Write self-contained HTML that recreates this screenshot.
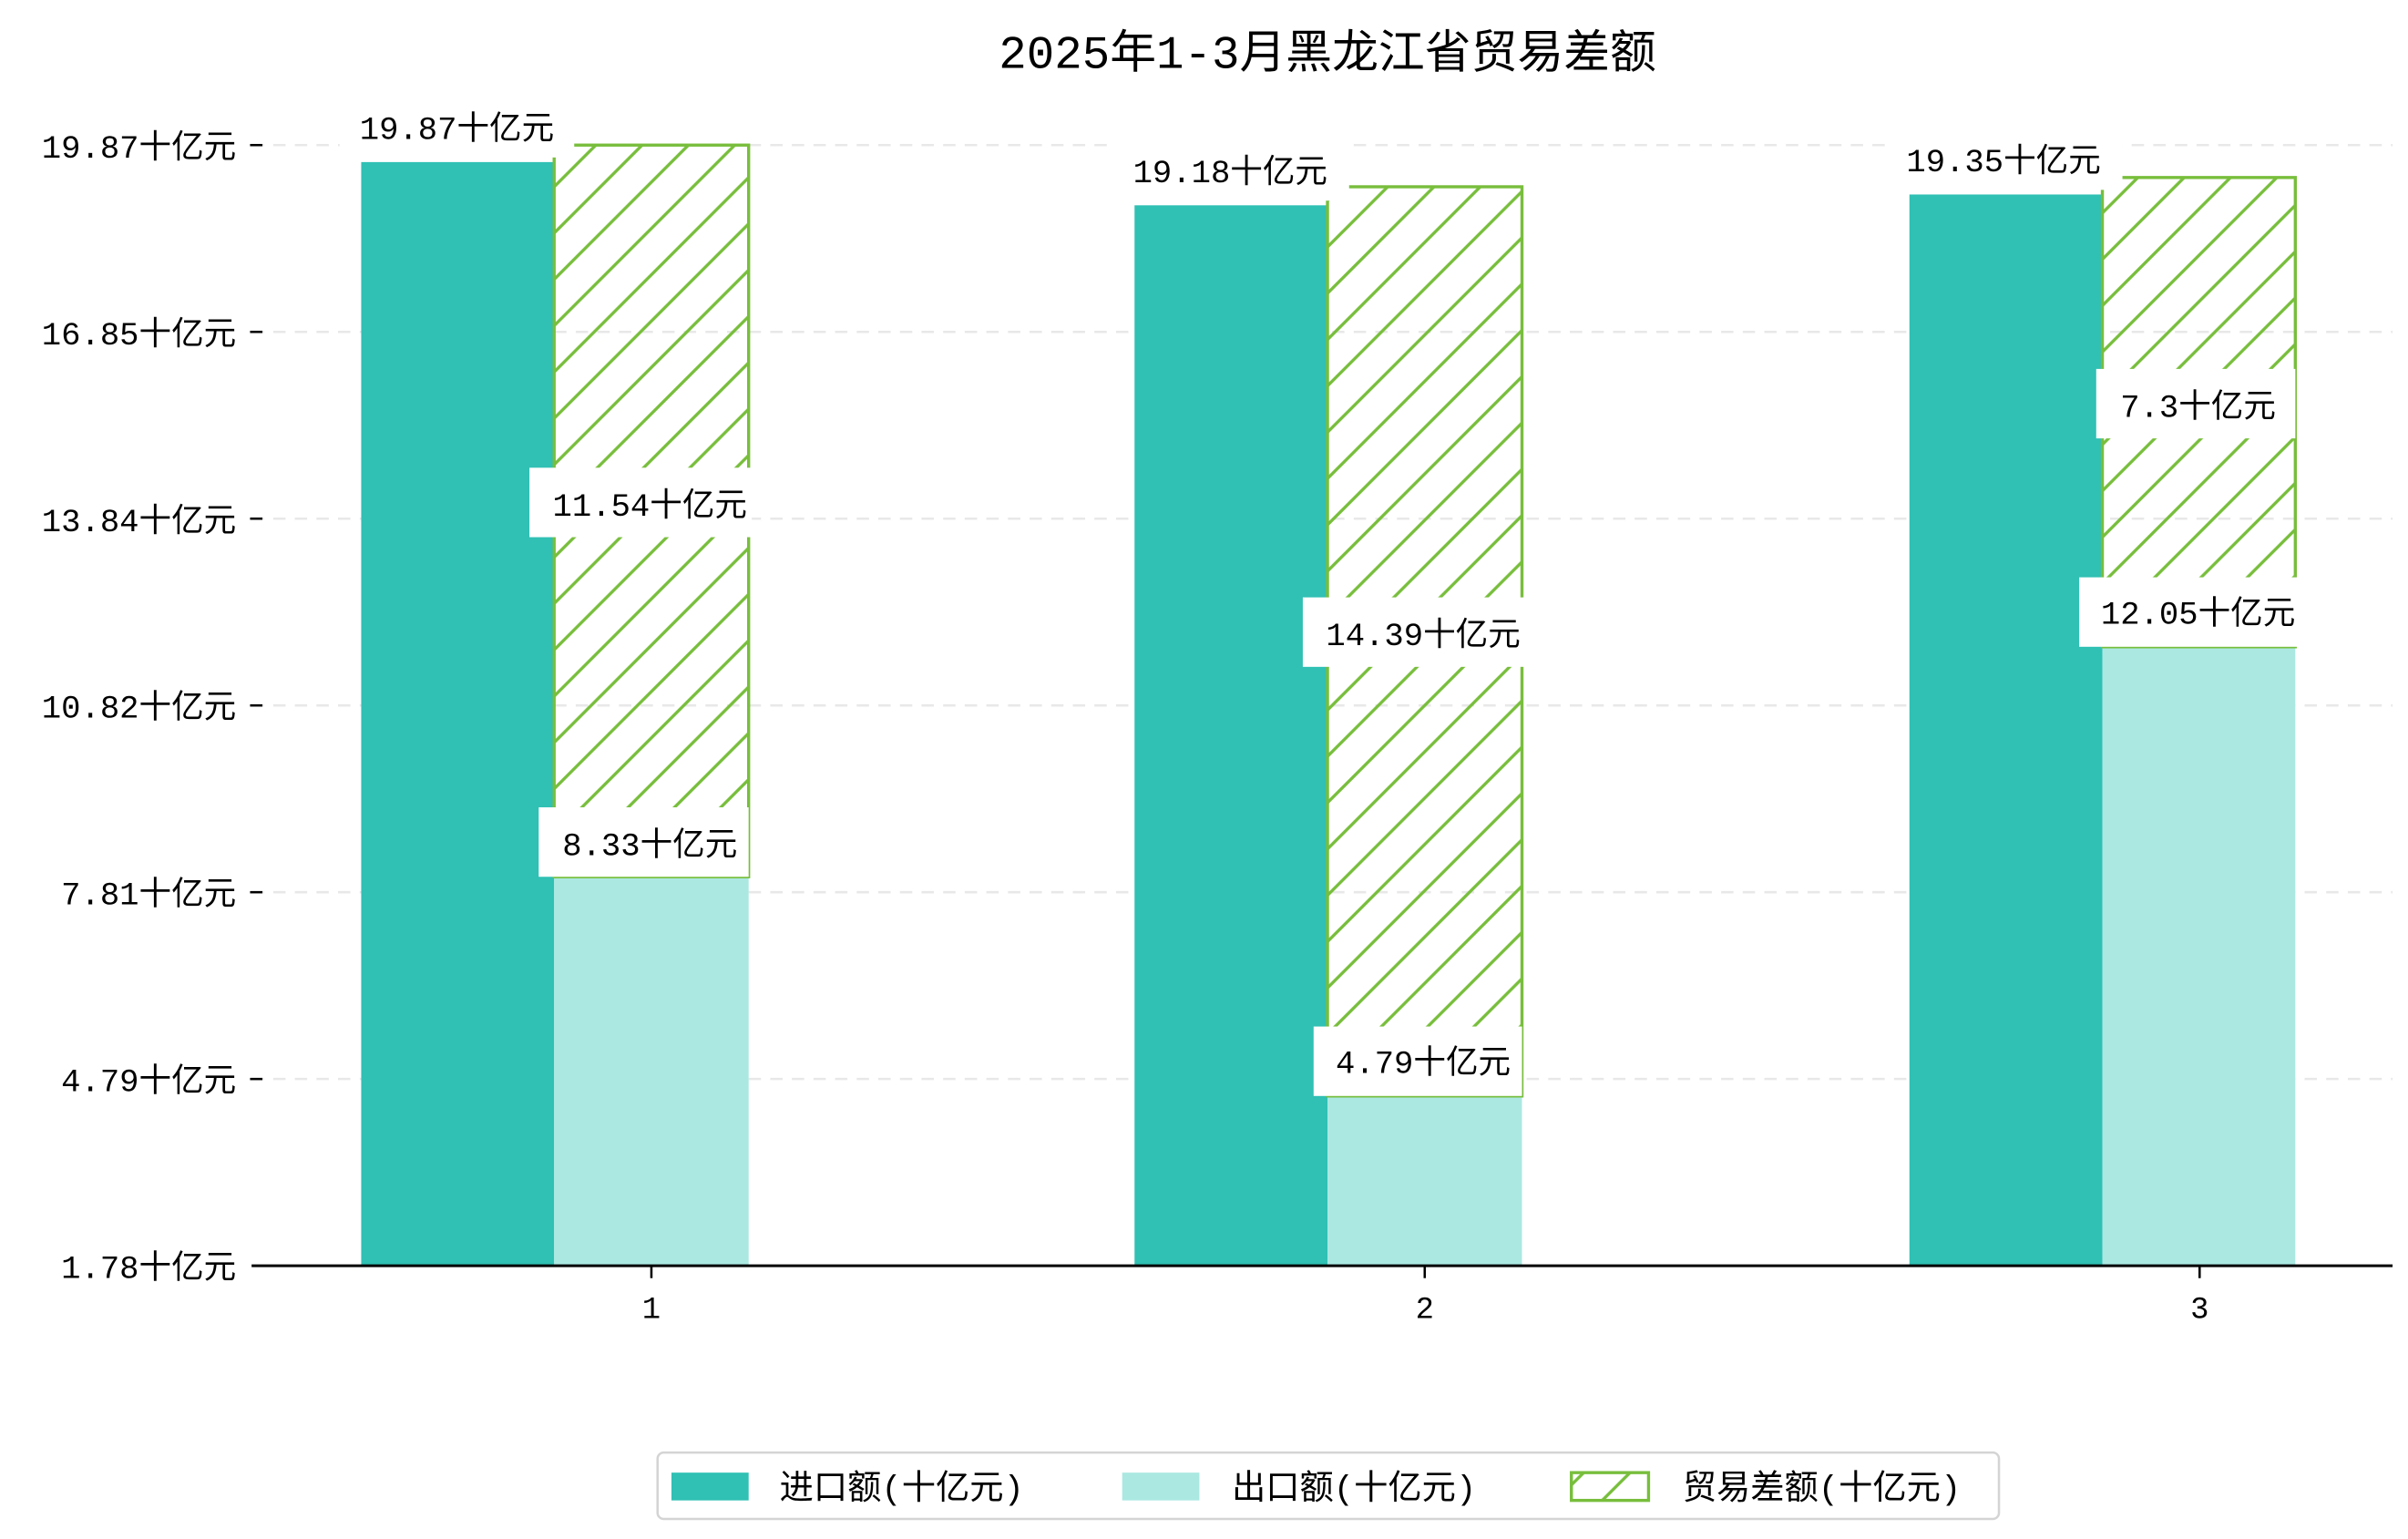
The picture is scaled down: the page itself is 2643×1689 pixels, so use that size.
<!DOCTYPE html>
<html><head><meta charset="utf-8"><style>
html,body{margin:0;padding:0;background:#fff;}
svg{display:block;}
text{font-family:"Liberation Mono","WenQuanYi Zen Hei","Noto Sans CJK SC",monospace;fill:#000;}
</style></head><body>
<svg width="2643" height="1689" viewBox="0 0 1560 997" preserveAspectRatio="none" xmlns="http://www.w3.org/2000/svg">
<defs>
<pattern id="h" patternUnits="userSpaceOnUse" width="30" height="30">
<path d="M-5,35 L35,-5 M-35,35 L35,-35 M-5,65 L65,-5" stroke="#78be3c" stroke-width="2"/>
</pattern>
</defs>
<rect width="1560" height="997" fill="#fff"/>
<text x="860" y="44" font-size="30" text-anchor="middle">2025年1-3月黑龙江省贸易差额</text>
<g stroke="#e8e8e8" stroke-width="1.5" stroke-dasharray="8,6">
<line x1="163" x2="1550" y1="94" y2="94"/><line x1="163" x2="1550" y1="215" y2="215"/>
<line x1="163" x2="1550" y1="336" y2="336"/><line x1="163" x2="1550" y1="457" y2="457"/>
<line x1="163" x2="1550" y1="578" y2="578"/><line x1="163" x2="1550" y1="699" y2="699"/>
</g>
<g font-size="21" text-anchor="end">
<text x="153" y="102">19.87十亿元</text><text x="153" y="223">16.85十亿元</text>
<text x="153" y="344">13.84十亿元</text><text x="153" y="465">10.82十亿元</text>
<text x="153" y="586">7.81十亿元</text><text x="153" y="707">4.79十亿元</text>
<text x="153" y="828">1.78十亿元</text>
</g>
<g stroke="#000" stroke-width="1.5">
<line x1="162" x2="170" y1="94" y2="94"/><line x1="162" x2="170" y1="215" y2="215"/>
<line x1="162" x2="170" y1="336" y2="336"/><line x1="162" x2="170" y1="457" y2="457"/>
<line x1="162" x2="170" y1="578" y2="578"/><line x1="162" x2="170" y1="699" y2="699"/>
</g>
<rect x="234" y="105" width="125" height="715" fill="#30c0b4"/>
<rect x="359" y="568" width="126" height="252" fill="#abe8e2"/>
<rect x="359" y="94" width="126" height="474" fill="url(#h)" stroke="#78be3c" stroke-width="2"/>
<rect x="735" y="133" width="125" height="687" fill="#30c0b4"/>
<rect x="860" y="710" width="126" height="110" fill="#abe8e2"/>
<rect x="860" y="121" width="126" height="589" fill="url(#h)" stroke="#78be3c" stroke-width="2"/>
<rect x="1237" y="126" width="125" height="694" fill="#30c0b4"/>
<rect x="1362" y="419" width="125" height="401" fill="#abe8e2"/>
<rect x="1362" y="115" width="125" height="304" fill="url(#h)" stroke="#78be3c" stroke-width="2"/>
<g fill="#fff">
<rect x="220" y="62" width="152" height="40"/><rect x="343" y="303" width="144" height="45"/><rect x="349" y="523" width="136" height="45"/>
<rect x="722" y="90" width="152" height="40"/><rect x="844" y="387" width="144" height="45"/><rect x="851" y="665" width="135" height="45"/>
<rect x="1223" y="83" width="152" height="40"/><rect x="1358" y="239" width="129" height="45"/><rect x="1347" y="374" width="143" height="45"/>
</g>
<g font-size="21" text-anchor="middle">
<text x="296" y="90">19.87十亿元</text><text x="421" y="334">11.54十亿元</text><text x="421" y="554">8.33十亿元</text>
<text x="797" y="118">19.18十亿元</text><text x="922" y="418">14.39十亿元</text><text x="922" y="695">4.79十亿元</text>
<text x="1298" y="111">19.35十亿元</text><text x="1424" y="270">7.3十亿元</text><text x="1424" y="404">12.05十亿元</text>
</g>
<line x1="163" x2="1550" y1="820" y2="820" stroke="#000" stroke-width="1.8"/>
<g stroke="#000" stroke-width="1.5">
<line x1="422" x2="422" y1="820" y2="828"/><line x1="923" x2="923" y1="820" y2="828"/><line x1="1425" x2="1425" y1="820" y2="828"/>
</g>
<g font-size="20" text-anchor="middle">
<text x="422" y="854">1</text><text x="923" y="854">2</text><text x="1425" y="854">3</text>
</g>
<rect x="426" y="941" width="869" height="43" rx="4" fill="#fff" stroke="#d4d4d4" stroke-width="1.5"/>
<rect x="435" y="954" width="50" height="18" fill="#30c0b4"/>
<rect x="727" y="954" width="50" height="18" fill="#abe8e2"/>
<rect x="1018" y="954" width="50" height="18" fill="url(#h)" stroke="#78be3c" stroke-width="2"/>
<g font-size="22">
<text x="505" y="971">进口额(十亿元)</text>
<text x="798" y="971">出口额(十亿元)</text>
<text x="1090" y="971">贸易差额(十亿元)</text>
</g>
</svg>
</body></html>
